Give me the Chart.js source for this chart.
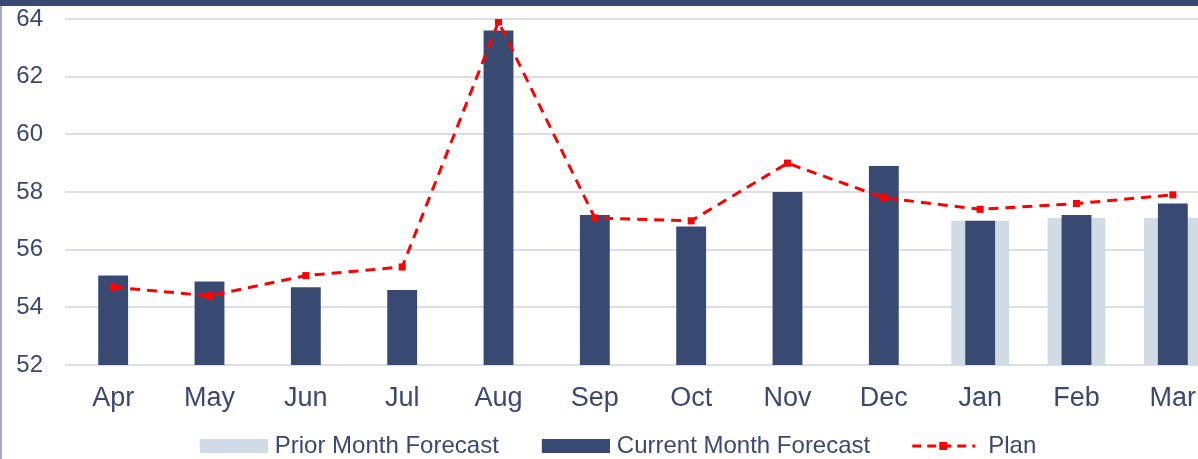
<!DOCTYPE html>
<html>
<head>
<meta charset="utf-8">
<script src="https://cdn.jsdelivr.net/npm/chart.js@4.4.1/dist/chart.umd.min.js"></script>
<style>
  html, body { margin: 0; padding: 0; background: #fff; overflow: hidden; }
  #wrap { position: relative; width: 1198px; height: 459px; overflow: hidden; }
  #box { position: absolute; left: 0; top: 0; width: 1230px; height: 468px; }
  #topBar { position: absolute; left: 0; top: 0; width: 1198px; height: 6px; background: #394a72; z-index: 2; }
  #leftBar { position: absolute; left: 0; top: 6px; width: 2px; height: 453px; background: #a3aac4; z-index: 2; }
</style>
</head>
<body>
<div id="wrap">
  <div id="box"><canvas id="chart"></canvas></div>
  <div id="topBar"></div>
  <div id="leftBar"></div>
</div>
<script>
/* ---------- data ---------- */
const months = ["Apr", "May", "Jun", "Jul", "Aug", "Sep", "Oct", "Nov", "Dec", "Jan", "Feb", "Mar"];
const priorForecast = [null, null, null, null, null, null, null, null, null, 57.0, 57.1, 57.1];
const currentForecast = [55.1, 54.9, 54.7, 54.6, 63.6, 57.2, 56.8, 58.0, 58.9, 57.0, 57.2, 57.6];
const plan = [54.7, 54.4, 55.1, 55.4, 63.9, 57.1, 57.0, 59.0, 57.8, 57.4, 57.6, 57.9];
const yTicks = [52, 54, 56, 58, 60, 62, 64];

const NAVY = "#394a72";
const PALE = "#d0dbe6";
const RED = "#ff0000";
const TEXT = "#3b4870";

/* ---------- legend swatches (drawn as small canvases) ---------- */
function swatch(color) {
    const c = document.createElement("canvas");
    c.width = 110; c.height = 14;
    const g = c.getContext("2d");
    g.fillStyle = color;
    g.fillRect(42, 0, 68, 14);
    return c;
}

function planSwatch() {
    const c = document.createElement("canvas");
    c.width = 110; c.height = 14;
    const g = c.getContext("2d");
    g.strokeStyle = RED;
    g.lineWidth = 3;
    g.setLineDash([9, 6]);
    g.beginPath();
    g.moveTo(41, 7);
    g.lineTo(104, 7);
    g.stroke();
    g.fillStyle = RED;
    g.fillRect(68, 3, 8, 8);
    return c;
}

const legendImages = [swatch(PALE), swatch(NAVY), planSwatch()];

// nudge the legend row so it sits where the reference has it
const legendShift = {
    id: "legendShift",
    afterLayout(chart) {
        chart.legend.left -= 22;
    }
};

new Chart(document.getElementById("chart"), {
    type: "bar",
    data: {
        labels: months,
        datasets: [
            {
                label: "Prior Month Forecast",
                data: priorForecast,
                backgroundColor: PALE,
                grouped: false,
                categoryPercentage: 1,
                barPercentage: 0.6,
                order: 3
            },
            {
                label: "Current Month Forecast",
                data: currentForecast,
                backgroundColor: NAVY,
                grouped: false,
                categoryPercentage: 1,
                barPercentage: 0.31,
                order: 2
            },
            {
                type: "line",
                label: "Plan",
                data: plan,
                borderColor: RED,
                backgroundColor: RED,
                borderWidth: 3,
                borderDash: [10, 7],
                pointStyle: "rect",
                pointRadius: 5,
                pointBorderWidth: 0,
                tension: 0,
                order: 1
            }
        ]
    },
    options: {
        responsive: true,
        maintainAspectRatio: false,
        animation: false,
        layout: { padding: { left: 0, top: 19, right: 9, bottom: 0 } },
        scales: {
            x: {
                grid: { display: false },
                border: { display: false },
                ticks: {
                    color: TEXT,
                    padding: 9,
                    maxRotation: 0,
                    font: { family: "'Liberation Sans', Arial, sans-serif", size: 27 }
                },
                afterFit(scale) { scale.height = 63; }
            },
            y: {
                min: 52,
                max: 64,
                afterBuildTicks(scale) { scale.ticks = yTicks.map(v => ({ value: v })); },
                grid: { color: "#dcdeeb", lineWidth: 2, drawTicks: true, tickLength: 20, tickColor: "rgba(0,0,0,0)" },
                border: { display: false },
                ticks: {
                    color: TEXT,
                    padding: 2,
                    font: { family: "'Liberation Sans', Arial, sans-serif", size: 24 }
                },
                afterFit(scale) { scale.width = 65; }
            }
        },
        plugins: {
            tooltip: { enabled: false },
            legend: {
                position: "bottom",
                labels: {
                    color: TEXT,
                    padding: 6,
                    usePointStyle: true,
                    pointStyleWidth: 100,
                    font: { family: "'Liberation Sans', Arial, sans-serif", size: 24 },
                    generateLabels(chart) {
                        const items = Chart.defaults.plugins.legend.labels.generateLabels(chart);
                        items.sort((a, b) => a.datasetIndex - b.datasetIndex);
                        items.forEach(it => { it.pointStyle = legendImages[it.datasetIndex]; });
                        return items;
                    }
                }
            }
        }
    },
    plugins: [legendShift]
});
</script>
</body>
</html>
